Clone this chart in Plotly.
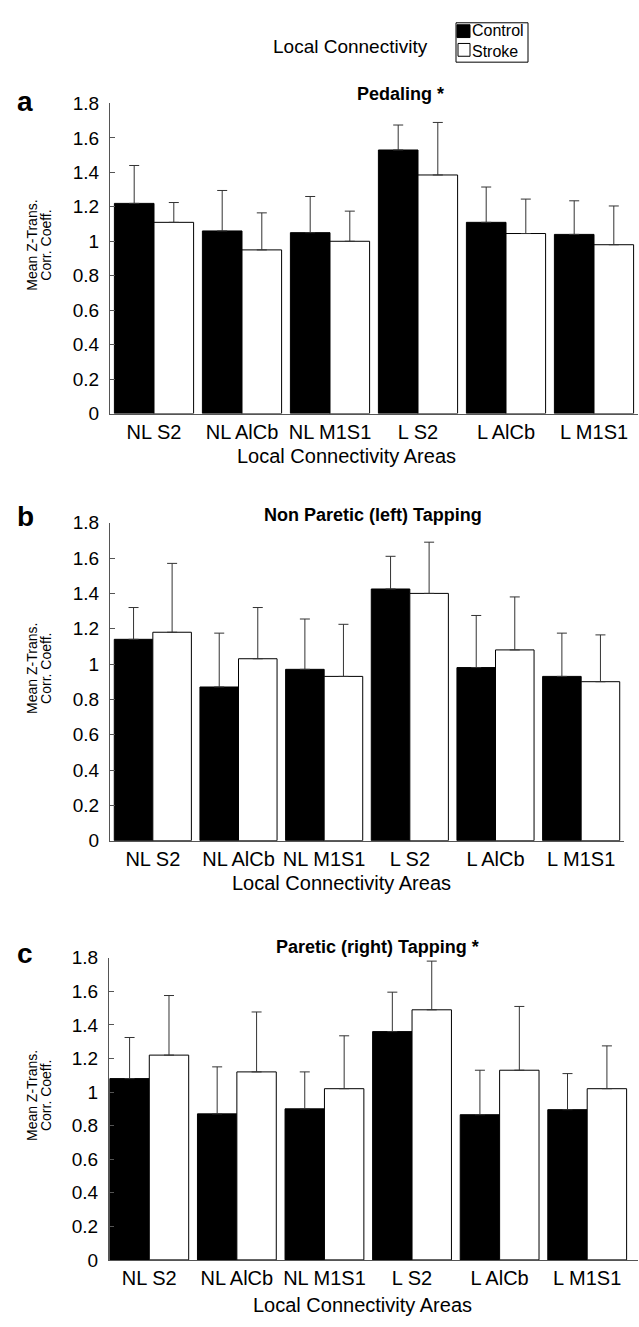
import plotly.graph_objects as go

W, H = 639, 1327

areas = ["NL S2", "NL AlCb", "NL M1S1", "L S2", "L AlCb", "L M1S1"]
series_names = ["Control", "Stroke"]

# Panel a: Pedaling
ped_control = [1.22, 1.06, 1.05, 1.53, 1.11, 1.04]
ped_control_err = [0.22, 0.235, 0.21, 0.145, 0.205, 0.195]
ped_stroke = [1.11, 0.95, 1.00, 1.385, 1.045, 0.98]
ped_stroke_err = [0.115, 0.215, 0.175, 0.305, 0.20, 0.225]

# Panel b: Non paretic (left) tapping
np_control = [1.14, 0.87, 0.97, 1.425, 0.98, 0.93]
np_control_err = [0.18, 0.305, 0.285, 0.185, 0.295, 0.245]
np_stroke = [1.18, 1.03, 0.93, 1.40, 1.08, 0.90]
np_stroke_err = [0.39, 0.29, 0.295, 0.29, 0.30, 0.265]

# Panel c: Paretic (right) tapping
p_control = [1.08, 0.87, 0.90, 1.36, 0.865, 0.895]
p_control_err = [0.245, 0.28, 0.22, 0.235, 0.265, 0.215]
p_stroke = [1.22, 1.12, 1.02, 1.49, 1.13, 1.02]
p_stroke_err = [0.355, 0.357, 0.315, 0.29, 0.38, 0.255]

panels = [
    ("a", "Pedaling *", ped_control, ped_control_err, ped_stroke, ped_stroke_err),
    ("b", "Non Paretic (left) Tapping", np_control, np_control_err, np_stroke, np_stroke_err),
    ("c", "Paretic (right) Tapping *", p_control, p_control_err, p_stroke, p_stroke_err),
]

# pixel geometry of plot areas: (x_left, x_right, y_bottom, y_top)
geom = [
    (110, 638, 410, 95),
    (110, 624, 844, 521),
    (109, 638, 1270, 963),
]
xranges = [[-0.5, 5.5], [-0.5, 5.5], [-0.46, 5.58]]
title_pos = [(401, 85), (373, 513), (377, 952)]
letter_y = [93, 515, 959]
xtitle_pos = [(347, 453), (342, 887), (362, 1316)]

FONT = "Liberation Sans, Arial, sans-serif"
AX = "#555"

fig = go.Figure()

def px_x(p):
    return p / W

def px_y(p):
    return 1 - p / H

layout_axes = {}
annotations = []
shapes = []
for i, (letter, title, c, ce, s, se) in enumerate(panels):
    n = "" if i == 0 else str(i + 1)
    xa, ya = "x" + n, "y" + n
    xl, xr, yb, yt = geom[i]
    fig.add_trace(go.Bar(
        x=areas, y=c, name=series_names[0], xaxis=xa, yaxis=ya,
        marker=dict(color="black", line=dict(color="black", width=1)),
        error_y=dict(type="data", symmetric=False, array=ce, arrayminus=[0] * len(ce),
                     color="#333", thickness=1, width=5),
        showlegend=False,
    ))
    fig.add_trace(go.Bar(
        x=areas, y=s, name=series_names[1], xaxis=xa, yaxis=ya,
        marker=dict(color="white", line=dict(color="black", width=1)),
        error_y=dict(type="data", symmetric=False, array=se, arrayminus=[0] * len(se),
                     color="#333", thickness=1, width=5),
        showlegend=False,
    ))
    layout_axes["xaxis" + n] = dict(
        domain=[px_x(xl), px_x(xr)], anchor=ya, range=xranges[i],
        showline=True, linecolor=AX, linewidth=1, ticks="",
        tickfont=dict(family=FONT, size=20, color="black"), showgrid=False,
        zeroline=False, fixedrange=True,
    )
    layout_axes["yaxis" + n] = dict(
        domain=[px_y(yb), px_y(yt)], anchor=xa, range=[0, 1.8],
        tick0=0, dtick=0.2, showline=True, linecolor=AX, linewidth=1,
        ticks="inside", ticklen=5, tickcolor=AX, ticklabelstandoff=6,
        tickfont=dict(family=FONT, size=19, color="black"), showgrid=False,
        zeroline=False, fixedrange=True,
    )
    tx, ty = title_pos[i]
    annotations.append(dict(
        text="<b>%s</b>" % title, x=px_x(tx), y=px_y(ty), xref="paper", yref="paper",
        showarrow=False, xanchor="center", yanchor="middle",
        font=dict(family=FONT, size=18, color="black"),
    ))
    annotations.append(dict(
        text="<b>%s</b>" % letter, x=px_x(15), y=px_y(letter_y[i]), xref="paper", yref="paper",
        showarrow=False, xanchor="left", yanchor="middle",
        font=dict(family=FONT, size=28, color="black"),
    ))
    yc = (yb + yt) / 2 - 13
    for tx_line, xline in (("Mean Z-Trans.", 32), ("Corr. Coeff.", 46)):
        annotations.append(dict(
            text=tx_line, x=px_x(xline), y=px_y(yc), xref="paper", yref="paper",
            showarrow=False, textangle=-90, xanchor="center", yanchor="middle",
            font=dict(family=FONT, size=14, color="black"),
        ))
    xtx, xty = xtitle_pos[i]
    annotations.append(dict(
        text="Local Connectivity Areas", x=px_x(xtx), y=px_y(xty),
        xref="paper", yref="paper", showarrow=False,
        xanchor="center", yanchor="middle",
        font=dict(family=FONT, size=20, color="black"),
    ))

# header text
annotations.append(dict(
    text="Local Connectivity", x=px_x(350), y=px_y(37), xref="paper", yref="paper",
    showarrow=False, xanchor="center", yanchor="middle",
    font=dict(family=FONT, size=19, color="black"),
))

# legend box drawn in paper space
shapes.append(dict(type="rect", xref="paper", yref="paper",
                   x0=px_x(456), x1=px_x(528), y0=px_y(53), y1=px_y(13),
                   line=dict(color="black", width=1), fillcolor="white"))
shapes.append(dict(type="rect", xref="paper", yref="paper",
                   x0=px_x(457), x1=px_x(470), y0=px_y(28), y1=px_y(15),
                   line=dict(color="black", width=1), fillcolor="black"))
shapes.append(dict(type="rect", xref="paper", yref="paper",
                   x0=px_x(458), x1=px_x(470), y0=px_y(47), y1=px_y(34),
                   line=dict(color="black", width=1), fillcolor="white"))
annotations.append(dict(
    text=series_names[0], x=px_x(470), y=px_y(21), xref="paper", yref="paper",
    showarrow=False, xanchor="left", yanchor="middle",
    font=dict(family=FONT, size=16, color="black"),
))
annotations.append(dict(
    text=series_names[1], x=px_x(470), y=px_y(42), xref="paper", yref="paper",
    showarrow=False, xanchor="left", yanchor="middle",
    font=dict(family=FONT, size=16, color="black"),
))

fig.update_layout(
    width=W, height=H, margin=dict(l=0, r=0, t=0, b=0),
    paper_bgcolor="white", plot_bgcolor="white",
    barmode="group", bargap=0.1, bargroupgap=0.0,
    annotations=annotations, shapes=shapes,
    showlegend=False,
    **layout_axes,
)

fig.write_html("out.html", config={"displayModeBar": False},
               post_script="document.body.style.margin='0';")
